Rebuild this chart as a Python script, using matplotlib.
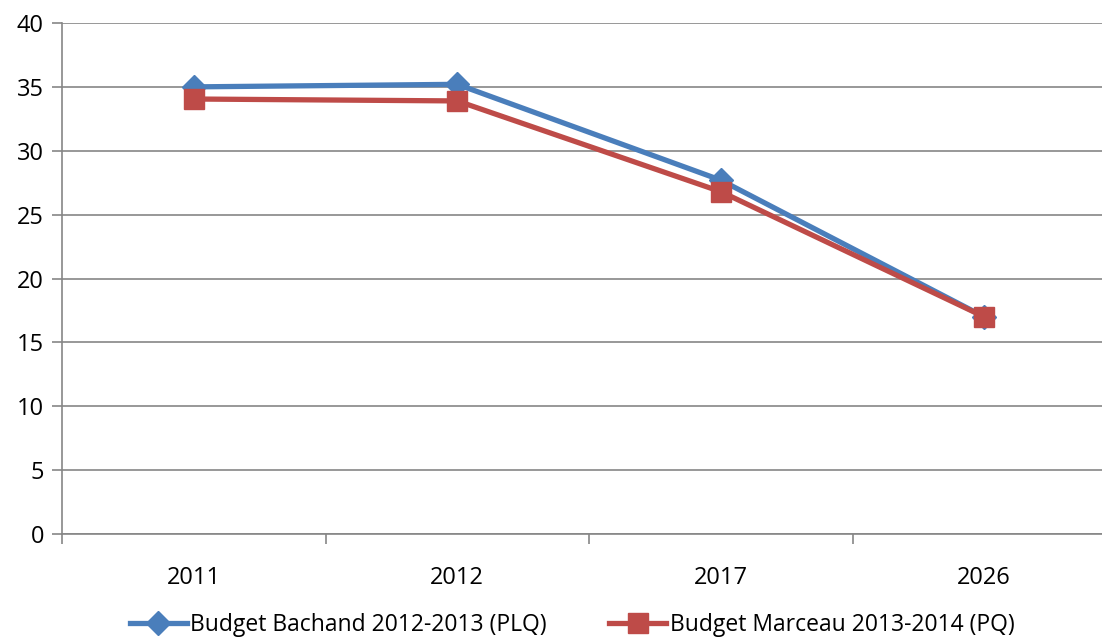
import matplotlib.pyplot as plt
import numpy as np

years = ['2011', '2012', '2017', '2026']
bachand = [35.0, 35.2, 27.7, 17.0]
marceau = [34.05, 33.9, 26.8, 17.0]
yticks = [0, 5, 10, 15, 20, 25, 30, 35, 40]

plt.rcParams['font.family'] = ['Open Sans', 'DejaVu Sans']

fig = plt.figure(figsize=(11.02, 6.39), dpi=100)
# axes runs a little past the right edge of the picture, as in the original
ax = fig.add_axes([62 / 1102, 1 - 534 / 639, (1116 - 62) / 1102, (534 - 23) / 639])

x = np.arange(len(years))
ax.plot(x, bachand, color='#4A7EBB', lw=3.8, marker='D', ms=12,
        label='Budget Bachand 2012-2013 (PLQ)', zorder=3)
ax.plot(x, marceau, color='#BE4B48', lw=3.8, marker='s', ms=14,
        label='Budget Marceau 2013-2014 (PQ)', zorder=4)

ax.set_xlim(-0.5, len(years) - 0.5)
ax.set_ylim(0, 40)
ax.set_yticks(yticks)
ax.set_xticks(x)
ax.set_xticklabels(years)
ax.set_xticks(np.arange(-0.5, len(years)), minor=True)
ax.tick_params(axis='x', which='major', length=0, pad=23, labelsize=17)
ax.tick_params(axis='x', which='minor', length=7, color='#868686', width=1.2)
ax.tick_params(axis='y', length=7, color='#868686', width=1.2, labelsize=17, pad=6)
ax.yaxis.grid(True, color='#868686', lw=1.2)
ax.set_axisbelow(True)
for s in ['top', 'right']:
    ax.spines[s].set_visible(False)
for s in ['left', 'bottom']:
    ax.spines[s].set_color('#868686')
    ax.spines[s].set_linewidth(1.2)

leg = fig.legend(loc='center', bbox_to_anchor=(572 / 1102, 1 - 625 / 639), ncol=2,
                 frameon=False, fontsize=16.5, handlelength=2.5, handletextpad=0.15,
                 columnspacing=2.7)

fig.savefig('out.png', dpi=100)
